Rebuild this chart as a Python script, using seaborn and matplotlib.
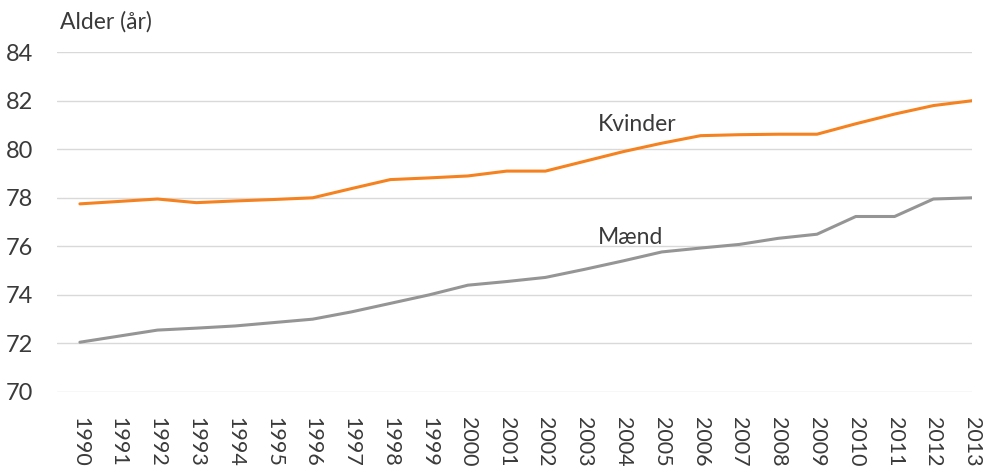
import pandas as pd
import matplotlib.pyplot as plt
import seaborn as sns

# Data
years = list(range(1990, 2014))
kvinder = [77.75, 77.85, 77.95, 77.8, 77.87, 77.93, 78.0, 78.38, 78.75, 78.82,
           78.9, 79.1, 79.1, 79.5, 79.9, 80.25, 80.56, 80.6, 80.62, 80.62,
           81.05, 81.45, 81.8, 82.0]
maend = [72.05, 72.3, 72.55, 72.63, 72.72, 72.86, 73.0, 73.3, 73.65, 74.0,
         74.4, 74.55, 74.72, 75.05, 75.4, 75.77, 75.93, 76.08, 76.33, 76.5,
         77.23, 77.23, 77.95, 78.0]
year_labels = [str(y) for y in years]
y_ticks = [70, 72, 74, 76, 78, 80, 82, 84]

orange = '#F5821F'
grey = '#959595'
text_col = '#3a3a3a'

df = pd.DataFrame({'år': years * 2,
                   'alder': kvinder + maend,
                   'køn': ['Kvinder'] * len(years) + ['Mænd'] * len(years)})

sns.set_style('white')
plt.rcParams['font.family'] = ['Lato', 'DejaVu Sans']

fig = plt.figure(figsize=(9.9, 4.7), dpi=100)
ax = fig.add_axes([0.0576, 0.166, 0.9244, 0.723])

sns.lineplot(data=df, x='år', y='alder', hue='køn',
             palette={'Kvinder': orange, 'Mænd': grey},
             linewidth=2.2, legend=False, ax=ax)

ax.set_xlim(1989.41, 2013)
ax.set_ylim(70, 84)
ax.set_yticks(y_ticks)
ax.set_xticks(years)
ax.set_xticklabels(year_labels, rotation=-90, fontsize=15.5, color=text_col)
ax.tick_params(axis='y', labelsize=17, colors=text_col, length=0, pad=17)
ax.tick_params(axis='x', length=0, pad=18)
ax.yaxis.grid(True, color='#d9d9d9', linewidth=1)
ax.set_axisbelow(True)
for s in ax.spines.values():
    s.set_visible(False)
ax.set_xlabel('')
ax.set_ylabel('')

ax.text(2003.35, 81.0, 'Kvinder', fontsize=16.5, color=text_col, va='center')
ax.text(2003.35, 76.35, 'Mænd', fontsize=16.5, color=text_col, va='center')
fig.text(60 / 990, 1 - 22 / 470, 'Alder (år)', fontsize=16.5, color=text_col, va='center')

fig.savefig('out.png', dpi=100)
